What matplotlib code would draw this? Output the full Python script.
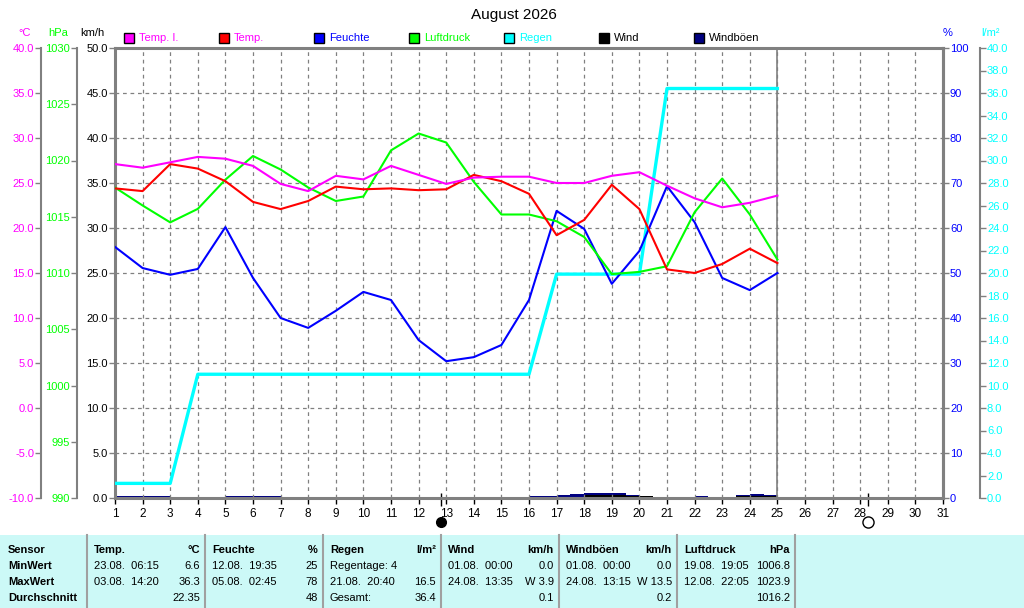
import matplotlib
matplotlib.use("Agg")
import matplotlib.pyplot as plt
from matplotlib.patches import Rectangle
from matplotlib.lines import Line2D

plt.rcParams['font.family'] = ['Liberation Sans', 'DejaVu Sans']
plt.rcParams['font.size'] = 8

# --- data ---
title = "August 2026"
days = list(range(1, 26))
temp_innen = [27.1, 26.7, 27.3, 27.9, 27.7, 26.9, 24.9, 24.1, 25.8, 25.4, 26.9, 25.9, 24.9,
              25.6, 25.7, 25.7, 25.0, 25.0, 25.8, 26.2, 24.7, 23.3, 22.3, 22.8, 23.6]
temp = [24.4, 24.1, 27.1, 26.6, 25.2, 22.9, 22.1, 23.0, 24.6, 24.3, 24.4, 24.2, 24.3,
        25.9, 25.2, 23.8, 19.2, 20.9, 24.8, 22.1, 15.4, 15.0, 16.0, 17.7, 16.1]
feuchte = [55.8, 51.1, 49.6, 50.9, 60.2, 48.9, 40.0, 37.8, 41.6, 45.8, 44.0, 35.1, 30.4,
           31.3, 34.0, 44.0, 63.8, 59.8, 47.6, 54.9, 69.3, 61.3, 48.9, 46.2, 50.0]
luftdruck = [1017.6, 1016.0, 1014.5, 1015.7, 1018.3, 1020.4, 1019.2, 1017.6, 1016.4, 1016.8,
             1020.9, 1022.4, 1021.6, 1018.1, 1015.2, 1015.2, 1014.6, 1013.2, 1009.9, 1010.1,
             1010.6, 1015.4, 1018.4, 1015.2, 1011.2]
regen = [1.3, 1.3, 1.3, 11.0, 11.0, 11.0, 11.0, 11.0, 11.0, 11.0, 11.0, 11.0, 11.0,
         11.0, 11.0, 11.0, 19.9, 19.9, 19.9, 19.9, 36.4, 36.4, 36.4, 36.4, 36.4]

# wind in half-day bins, starting 01.08. 00:00
wind_bins = [d / 2 for d in range(2, 50)]
windboeen = [0.25, 0.25, 0.25, 0.25, 0, 0, 0, 0.15, 0.25, 0.25, 0.25, 0.25,
             0, 0, 0, 0, 0, 0, 0, 0, 0, 0, 0, 0,
             0.15, 0.15, 0, 0, 0, 0,
             0.2, 0.2, 0.3, 0.45, 0.6, 0.6, 0.5, 0.3,
             0, 0, 0, 0,
             0.2, 0, 0, 0.35, 0.4, 0.3]
wind = [0.15, 0.15, 0.15, 0.15, 0.15, 0, 0] + [0.15] * 23 + \
       [0, 0, 0, 0.15, 0.3, 0.3, 0.3, 0.2, 0.2, 0, 0, 0, 0, 0.15, 0.15, 0.2, 0.2, 0.2]

current_day = 25
vollmond = [12.81]
neumond = [28.29]

legend_labels = ["Temp. I.", "Temp.", "Feuchte", "Luftdruck", "Regen", "Wind", "Windböen"]

row_labels = ["Sensor", "MinWert", "MaxWert", "Durchschnitt"]
table_heads = [("Temp.", "°C"), ("Feuchte", "%"), ("Regen", "l/m²"), ("Wind", "km/h"),
               ("Windböen", "km/h"), ("Luftdruck", "hPa")]
table_left = [["23.08.  06:15", "03.08.  14:20", ""],
              ["12.08.  19:35", "05.08.  02:45", ""],
              ["Regentage: 4", "21.08.  20:40", "Gesamt:"],
              ["01.08.  00:00", "24.08.  13:35", ""],
              ["01.08.  00:00", "24.08.  13:15", ""],
              ["19.08.  19:05", "12.08.  22:05", ""]]
table_right = [["6.6", "36.3", "22.35"],
               ["25", "78", "48"],
               ["", "16.5", "36.4"],
               ["0.0", "W 3.9", "0.1"],
               ["0.0", "W 13.5", "0.2"],
               ["1006.8", "1023.9", "1016.2"]]

# colours
C_MAG = '#ff00ff'
C_RED = '#ff0000'
C_BLUE = '#0000ff'
C_GREEN = '#00ff00'
C_CYAN = '#00ffff'
C_NAVY = '#000080'
C_GRAY = '#808080'
legend_box = [C_MAG, C_RED, C_BLUE, C_GREEN, C_CYAN, 'black', C_NAVY]
legend_txt = [C_MAG, C_MAG, C_BLUE, C_GREEN, C_CYAN, 'black', 'black']

W, H = 1024, 608


def fx(px):
    return px / W


def fy(py):
    return 1 - py / H


fig = plt.figure(figsize=(W / 100, H / 100), dpi=100)
ax = fig.add_axes([fx(115), fy(498), 828 / W, 450 / H])

# main axis: km/h
ax.set_xlim(1, 31)
ax.set_ylim(0, 50)
ax.set_xticks(range(1, 32))
ax.set_yticks(range(0, 51, 5))
ax.set_yticklabels(["%.1f" % v for v in range(0, 51, 5)])
ax.grid(True, color=C_GRAY, linestyle=(0, (3, 3)), lw=0.9)
ax.tick_params(axis='y', colors=C_GRAY, labelcolor='black', length=4, width=1, pad=1)
ax.tick_params(axis='x', colors='black', length=4, width=1, pad=3, labelsize=8.5)
for s in ax.spines.values():
    s.set_color(C_GRAY)
    s.set_linewidth(2.2)
ax.axvline(current_day, color=C_GRAY, lw=1.2)

xs = wind_bins + [wind_bins[-1] + 0.5]
ax.fill_between(xs, windboeen + [windboeen[-1]], step='post', color=C_NAVY, lw=0)
ax.fill_between(xs, wind + [wind[-1]], step='post', color='black', lw=0)

# moon phases under the x axis
tr = ax.get_xaxis_transform()
ax.vlines(vollmond + neumond, -0.018, 0.012, transform=tr, color='black', lw=1, clip_on=False)
ax.plot(vollmond, [-0.054], 'o', ms=7, color='black', transform=tr, clip_on=False)
ax.plot(neumond, [-0.054], 'o', ms=8, mfc='white', mec='black', mew=1, transform=tr, clip_on=False)


def side_axis(side, pos, lo, hi, step, fmt, color):
    a = ax.twinx()
    a.set_ylim(lo, hi)
    ticks = list(range(lo, hi + 1, step))
    a.set_yticks(ticks)
    a.set_yticklabels([fmt % t for t in ticks])
    a.yaxis.set_ticks_position(side)
    for k, s in a.spines.items():
        s.set_visible(k == side)
    a.spines[side].set_position(('axes', pos))
    a.spines[side].set_color(C_GRAY)
    a.spines[side].set_linewidth(2.2 if pos == 1.0 else 1.5)
    a.tick_params(axis='y', colors=C_GRAY, labelcolor=color, length=4, width=1, pad=1)
    return a


ax_r = side_axis('right', (980 - 115) / 828, 0, 40, 2, "%.1f", C_CYAN)
ax_h = side_axis('right', 1.0, 0, 100, 10, "%d", C_BLUE)
ax_p = side_axis('left', (77 - 115) / 828, 990, 1030, 5, "%d", C_GREEN)
ax_t = side_axis('left', (41 - 115) / 828, -10, 40, 5, "%.1f", C_MAG)

ax_r.plot(days, regen, color=C_CYAN, lw=2.4)
ax_h.plot(days, feuchte, color=C_BLUE, lw=1.5)
ax_p.plot(days, luftdruck, color=C_GREEN, lw=1.5)
ax_t.plot(days, temp, color=C_RED, lw=1.5)
ax_t.plot(days, temp_innen, color=C_MAG, lw=1.5)

# title, units, legend
fig.text(fx(514), fy(15), title, ha='center', va='center', fontsize=11)
fig.text(fx(25), fy(33), "°C", color=C_MAG, ha='center', va='center')
fig.text(fx(58), fy(33), "hPa", color=C_GREEN, ha='center', va='center')
fig.text(fx(92), fy(33), "km/h", color='black', ha='center', va='center')
fig.text(fx(948), fy(33), "%", color=C_BLUE, ha='center', va='center')
fig.text(fx(990), fy(33), "l/m²", color=C_CYAN, ha='center', va='center')

for i, lab in enumerate(legend_labels):
    x0 = 124 + 95 * i
    fig.patches.append(Rectangle((fx(x0), fy(43)), 10 / W, 10 / H, facecolor=legend_box[i],
                                 edgecolor='black', lw=1, transform=fig.transFigure))
    fig.text(fx(x0 + 15), fy(38), lab, color=legend_txt[i], va='center')

# table at the bottom
fig.patches.append(Rectangle((0, 0), 1, fy(535), facecolor='#ccf9f7', edgecolor='none',
                             transform=fig.transFigure, zorder=0))
row_y = [550, 566, 582, 598]
for r, lab in enumerate(row_labels):
    fig.text(fx(8), fy(row_y[r]), lab, fontweight='bold', va='center', fontsize=8)
col_edges = [87, 205, 323, 441, 559, 677, 795]
for x in col_edges:
    fig.lines.append(Line2D([fx(x), fx(x)], [0, fy(535)], color='#a0a0a0', lw=1.5,
                            transform=fig.transFigure))
for c, (head, unit) in enumerate(table_heads):
    xl = col_edges[c] + 7
    xr = col_edges[c + 1] - 5
    fig.text(fx(xl), fy(row_y[0]), head, fontweight='bold', va='center', fontsize=8)
    fig.text(fx(xr), fy(row_y[0]), unit, fontweight='bold', va='center', ha='right', fontsize=8)
    for r in range(3):
        fig.text(fx(xl), fy(row_y[r + 1]), table_left[c][r], va='center', fontsize=8)
        fig.text(fx(xr), fy(row_y[r + 1]), table_right[c][r], va='center', ha='right', fontsize=8)

fig.savefig("out.png", dpi=100)
